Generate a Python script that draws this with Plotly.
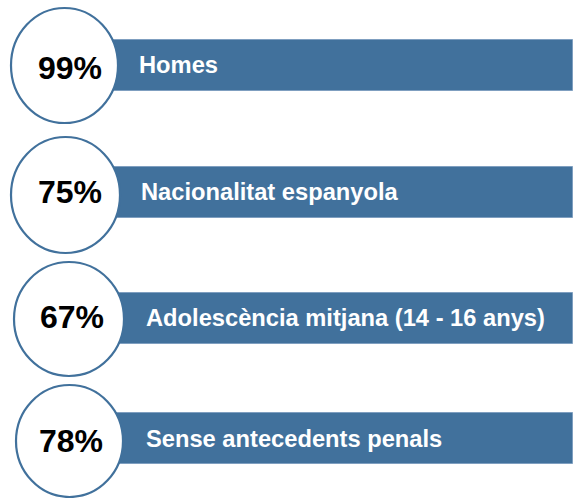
import plotly.graph_objects as go

# Data
categories = ["Homes", "Nacionalitat espanyola", "Adolescència mitjana (14 - 16 anys)", "Sense antecedents penals"]
percentages = [99, 75, 67, 78]

# Layout (pixel-space positions in the page)
W, H = 575, 498
row_y = [65.5, 192.5, 318, 438.5]
bar_h = 51
bar_left = 60
bar_right = 573
circle_x0 = [11, 11, 14, 16]
circle_x1 = [118, 120, 124, 123]
circle_y0 = [8, 137, 262, 385]
circle_y1 = [123, 253, 376, 497]
pct_x = [69.5, 69.5, 72, 70.5]
pct_y = [67.5, 192, 316.7, 441]
label_x = [137, 139, 144, 144]
label_y = [65, 192, 318, 439]

BLUE = "#41719C"

fig = go.Figure()
fig.add_trace(go.Bar(
    y=row_y,
    x=[bar_right - bar_left] * len(categories),
    base=[bar_left] * len(categories),
    orientation="h",
    width=bar_h,
    marker=dict(color=BLUE, line=dict(color="#7f9fc0", width=1)),
    hoverinfo="skip",
    showlegend=False,
))

for i, (cat, p) in enumerate(zip(categories, percentages)):
    fig.add_shape(type="circle", xref="x", yref="y",
                  x0=circle_x0[i], x1=circle_x1[i], y0=circle_y0[i], y1=circle_y1[i],
                  fillcolor="white", line=dict(color=BLUE, width=2.2), layer="above")
    fig.add_annotation(x=pct_x[i], y=pct_y[i], xref="x", yref="y", text=f"<b>{p}%</b>",
                       showarrow=False, xanchor="center", yanchor="middle",
                       font=dict(family="Liberation Sans, Arial", size=32, color="black"))
    fig.add_annotation(x=label_x[i], y=label_y[i], xref="x", yref="y", text=f"<b>{cat}</b>",
                       showarrow=False, xanchor="left", yanchor="middle",
                       font=dict(family="Liberation Sans, Arial", size=23.7, color="white"))

fig.update_layout(
    width=W, height=H,
    margin=dict(l=0, r=0, t=0, b=0),
    paper_bgcolor="white", plot_bgcolor="white",
    xaxis=dict(range=[0, W], visible=False, fixedrange=True),
    yaxis=dict(range=[H, 0], visible=False, fixedrange=True),
    bargap=0,
)

fig.write_html(
    "out.html",
    config={"displayModeBar": False},
    post_script="document.body.style.margin='0';document.body.style.overflow='hidden';",
)
